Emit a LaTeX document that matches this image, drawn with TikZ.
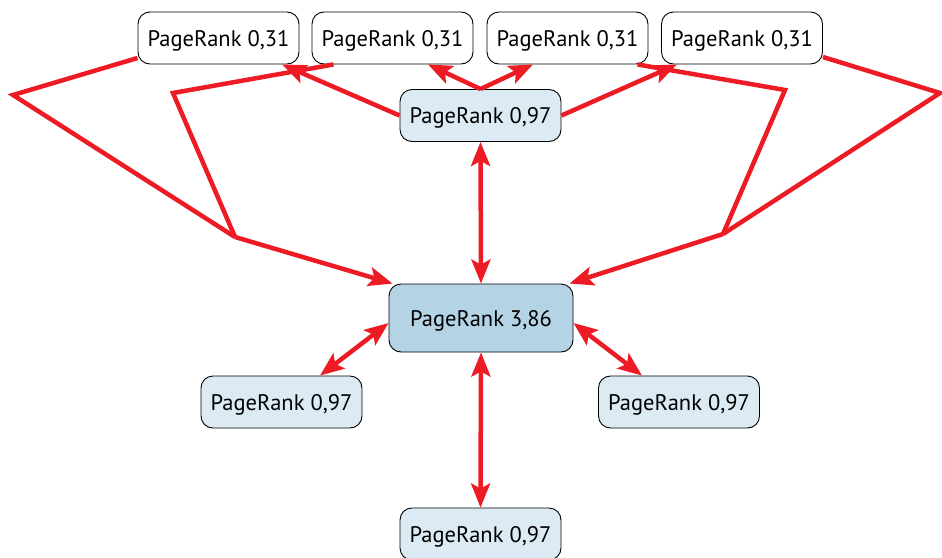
\documentclass[tikz,border=0pt]{standalone}
\usepackage{fontspec}
\setmainfont{PT Sans}
\usetikzlibrary{arrows.meta}
\definecolor{prred}{HTML}{ED1C24}
\definecolor{lightbox}{HTML}{DCEBF3}
\definecolor{darkbox}{HTML}{B4D4E6}
\tikzset{
  prbox/.style={draw=black, line width=0.9pt, rounded corners=12pt, minimum width=161pt, minimum height=52pt, inner sep=0pt, text depth=0pt, font=\fontsize{22.5}{24}\selectfont},
  topbox/.style={prbox, fill=white},
  midbox/.style={prbox, fill=lightbox},
  bigbox/.style={prbox, fill=darkbox, minimum width=184pt, minimum height=68pt},
  link/.style={draw=prred, line width=4.5pt, line join=miter},
  tip/.style={-{Stealth[length=24pt,width=19pt,inset=5pt]}},
  bitip/.style={{Stealth[length=24pt,width=19pt,inset=5pt]}-{Stealth[length=24pt,width=19pt,inset=5pt]}}
}
\begin{document}
\begin{tikzpicture}[x=1pt,y=-1pt]
\useasboundingbox (0,0) rectangle (942,557);
% nodes
\node[topbox] (T1) at (218.5,38) {PageRank 0,31};
\node[topbox] (T2) at (392.5,38) {PageRank 0,31};
\node[topbox] (T3) at (567.5,38) {PageRank 0,31};
\node[topbox] (T4) at (742,38) {PageRank 0,31};
\node[midbox] (M) at (480.5,115.5) {PageRank 0,97};
\node[bigbox] (C) at (481,318) {PageRank 3,86};
\node[midbox] (L) at (281.5,402) {PageRank 0,97};
\node[midbox] (R) at (679,402) {PageRank 0,97};
\node[midbox] (B) at (480.5,534) {PageRank 0,97};
% bend points
\coordinate (a1) at (13,95);
\coordinate (a2) at (173,93);
\coordinate (j1) at (235,237);
\coordinate (a3) at (785,90);
\coordinate (a4) at (940,93);
\coordinate (j2) at (723,234);
% links back to the centre
\draw[link] ([yshift=-20pt]T1.west) -- (a1) -- (j1);
\draw[link] ([xshift=-59pt]T2.south) -- (a2) -- (j1);
\draw[link,tip] (j1) -- ([xshift=4pt]C.north west);
\draw[link] ([xshift=70pt]T3.south) -- (a3) -- (j2);
\draw[link] ([yshift=-19pt]T4.east) -- (a4) -- (j2);
\draw[link,tip] (j2) -- ([xshift=-4pt]C.north east);
% links from M to the top row
\draw[link,tip] (M.west) -- ([xshift=63.5pt]T1.south);
\draw[link,tip] (M.north) -- ([xshift=35.5pt]T2.south);
\draw[link,tip] (M.north) -- ([xshift=-34.5pt]T3.south);
\draw[link,tip] (M.east) -- ([xshift=-65pt]T4.south);
% two-way links
\draw[link,bitip] (M.south) -- (C.north);
\draw[link,bitip] ([yshift=-5pt]C.west) -- ([xshift=38.5pt]L.north);
\draw[link,bitip] ([yshift=-5pt]C.east) -- ([xshift=-37pt]R.north);
\draw[link,bitip] (C.south) -- (B.north);
\end{tikzpicture}
\end{document}
